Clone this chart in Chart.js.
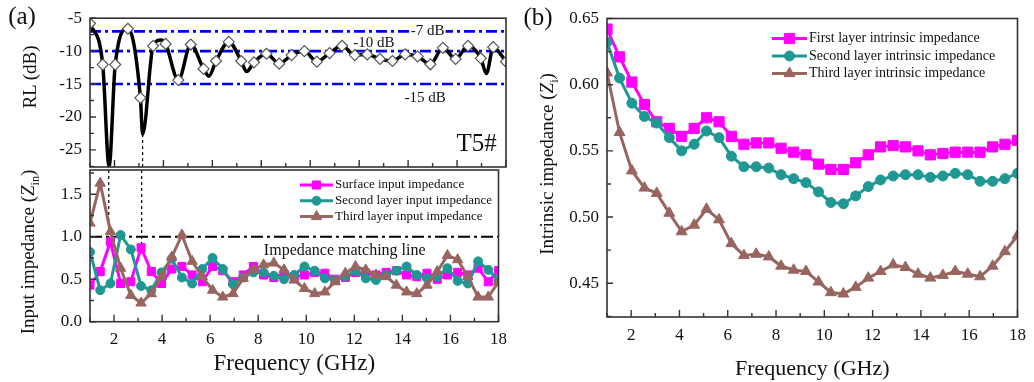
<!DOCTYPE html>
<html>
<head>
<meta charset="utf-8">
<script src="https://cdn.jsdelivr.net/npm/chart.js@4.4.1/dist/chart.umd.min.js"></script>
<style>
  body { margin: 0; background: #fff; }
  #wrap { position: relative; width: 1034px; height: 382px; overflow: hidden; }
  canvas { position: absolute; top: 0; }
  .lab { position: absolute; font-family: 'Liberation Serif', serif; color: #111;
         transform: translate(-50%, -50%); white-space: nowrap; }
  .ytitle { position: absolute; font-family: 'Liberation Serif', serif; font-size: 19px;
            color: #111; transform: translate(-50%, -50%) rotate(-90deg); white-space: nowrap; }
  .ytitle sub { font-size: 12px; }
</style>
</head>
<body>
<div id="wrap">
  <canvas id="rlChart" style="left:0" width="515" height="382"></canvas>
  <canvas id="zinChart" style="left:0" width="515" height="382"></canvas>
  <canvas id="ziChart" style="left:515px" width="519" height="382"></canvas>
  <div class="lab" style="left:22px;top:16px;font-size:25px">(a)</div>
  <div class="lab" style="left:538px;top:17px;font-size:25px">(b)</div>
  <div class="ytitle" style="left:30px;top:77px">RL (dB)</div>
  <div class="ytitle" style="left:30px;top:252px">Input impedance (<i>Z</i><sub>in</sub>)</div>
  <div class="ytitle" style="left:549px;top:164px">Intrinsic impedance (<i>Z</i><sub>i</sub>)</div>
</div>
<script>
// ---- data ----
// measurement grid used for the RL markers and the intrinsic impedance curves (GHz)
var freqA = [1.00, 1.52, 2.03, 2.55, 3.06, 3.58, 4.09, 4.61, 5.12, 5.64, 6.15, 6.67,
             7.18, 7.70, 8.21, 8.73, 9.24, 9.76, 10.27, 10.79, 11.30, 11.82, 12.33, 12.85,
             13.36, 13.88, 14.39, 14.91, 15.42, 15.94, 16.45, 16.97, 17.48, 18.00];
// grid used for the input impedance curves (GHz)
var freqZin = [1.000, 1.425, 1.850, 2.275, 2.700, 3.125, 3.550, 3.975, 4.400, 4.825,
               5.250, 5.675, 6.100, 6.525, 6.950, 7.375, 7.800, 8.225, 8.650, 9.075,
               9.500, 9.925, 10.350, 10.775, 11.200, 11.625, 12.050, 12.475, 12.900, 13.325,
               13.750, 14.175, 14.600, 15.025, 15.450, 15.875, 16.300, 16.725, 17.150, 17.575, 18.000];

// reflection loss, T5# sample (dB)
var rlMarkers = [-5.8, -12.05, -12.05, -6.6, -17.1, -9.2, -8.9, -14.4, -9.0, -12.7, -11.5, -8.6,
                 -11.5, -11.7, -10.4, -11.9, -10.6, -10.0, -11.6, -10.3, -9.2, -10.6, -10.5, -11.2,
                 -11.5, -10.5, -10.8, -12.0, -9.5, -11.2, -9.2, -11.1, -9.4, -11.6];
var rlCurveFreq = [1.00, 1.52, 1.78, 2.03, 2.55, 3.06, 3.15, 3.58, 3.90, 4.09, 4.61, 5.12, 5.64, 5.86,
                   6.15, 6.67, 7.18, 7.40, 7.70, 8.21, 8.73, 9.24, 9.76, 10.27, 10.79, 11.30, 11.82,
                   12.33, 12.85, 13.36, 13.88, 14.39, 14.91, 15.42, 15.94, 16.45, 16.97, 17.20, 17.48, 18.00];
var rlCurve = [-5.8, -12.05, -27.5, -12.05, -6.5, -17.1, -22.6, -9.2, -8.3, -8.9, -14.4, -9.0, -12.7, -13.8,
               -11.5, -8.6, -11.5, -13.1, -11.7, -10.4, -11.9, -10.6, -10.0, -11.6, -10.3, -9.2, -10.6,
               -10.5, -11.2, -11.5, -10.5, -10.8, -12.0, -9.5, -11.2, -9.2, -11.1, -13.4, -9.4, -11.6];
var rlLevels = [-7, -10, -15];
var rlLevelText = ['-7 dB', '-10 dB', '-15 dB'];

// absorption peaks marked across both panels
var dipFreqs = [1.78, 3.15];
var dipRL = [-27.5, -22.6];
var dipZinEnd = [0.93, 0.87];

// input impedance
var zinSurface = [0.43, 0.59, 0.94, 0.45, 0.47, 0.87, 0.59, 0.45, 0.62, 0.65, 0.55, 0.47, 0.65, 0.60,
                  0.47, 0.55, 0.65, 0.55, 0.52, 0.56, 0.53, 0.55, 0.58, 0.57, 0.50, 0.52, 0.58, 0.57,
                  0.55, 0.58, 0.60, 0.55, 0.53, 0.57, 0.50, 0.55, 0.58, 0.55, 0.63, 0.47, 0.60];
var zinSecond = [0.82, 0.37, 0.45, 1.02, 0.85, 0.42, 0.37, 0.58, 0.74, 0.52, 0.45, 0.62, 0.75, 0.62,
                 0.44, 0.52, 0.58, 0.58, 0.54, 0.50, 0.55, 0.65, 0.60, 0.51, 0.49, 0.53, 0.60, 0.51,
                 0.49, 0.55, 0.60, 0.65, 0.55, 0.51, 0.53, 0.63, 0.48, 0.45, 0.71, 0.61, 0.49];
var zinThird = [1.16, 1.63, 1.06, 0.63, 0.31, 0.22, 0.33, 0.53, 0.76, 1.02, 0.71, 0.53, 0.37, 0.29,
                0.33, 0.51, 0.61, 0.67, 0.69, 0.61, 0.49, 0.39, 0.33, 0.35, 0.47, 0.57, 0.65, 0.61,
                0.55, 0.53, 0.43, 0.35, 0.33, 0.43, 0.59, 0.78, 0.73, 0.53, 0.29, 0.29, 0.47];
var matchLevel = 1.0;

// intrinsic impedance
var ziFirst = [0.642, 0.621, 0.602, 0.585, 0.572, 0.567, 0.561, 0.567, 0.575, 0.572, 0.561, 0.555,
               0.556, 0.556, 0.552, 0.549, 0.547, 0.540, 0.536, 0.536, 0.541, 0.547, 0.553, 0.554,
               0.553, 0.550, 0.547, 0.548, 0.549, 0.549, 0.549, 0.553, 0.555, 0.558];
var ziSecond = [0.632, 0.605, 0.586, 0.576, 0.571, 0.560, 0.550, 0.555, 0.565, 0.560, 0.546, 0.538,
                0.538, 0.537, 0.532, 0.529, 0.526, 0.519, 0.511, 0.510, 0.516, 0.523, 0.528, 0.531,
                0.532, 0.532, 0.530, 0.531, 0.533, 0.532, 0.527, 0.527, 0.529, 0.533];
var ziThird = [0.609, 0.564, 0.535, 0.522, 0.518, 0.503, 0.489, 0.494, 0.506, 0.498, 0.480, 0.471,
               0.472, 0.470, 0.463, 0.460, 0.459, 0.451, 0.443, 0.442, 0.447, 0.454, 0.459, 0.464,
               0.462, 0.457, 0.454, 0.456, 0.459, 0.457, 0.455, 0.463, 0.474, 0.486];

// tick values
var freqTicks = [2, 4, 6, 8, 10, 12, 14, 16, 18];
var freqMinor = [1, 3, 5, 7, 9, 11, 13, 15, 17];
var rlTicks = [-25, -20, -15, -10, -5];
var rlMinor = [-27.5, -22.5, -17.5, -12.5, -7.5];
var zinTicks = [0, 0.5, 1.0, 1.5];
var zinMinor = [0.25, 0.75, 1.25, 1.75];
var ziTicks = [0.45, 0.50, 0.55, 0.60, 0.65];
var ziMinor = [0.425, 0.475, 0.525, 0.575, 0.625];

// ---- styling ----
var SERIF = "'Liberation Serif', 'Times New Roman', serif";
Chart.defaults.font.family = SERIF;
Chart.defaults.color = '#111';
var MAGENTA = '#ff00ff', TEAL = '#1f9893', BROWN = '#98655f';

function pts(xs, ys) {
  return xs.map(function (x, i) { return { x: x, y: ys[i] }; });
}

// frame plus inward tick marks on the bottom and left edges
var frameTicks = {
  id: 'frameTicks',
  afterDraw: function (chart, args, o) {
    var ctx = chart.ctx, a = chart.chartArea, xs = chart.scales.x, ys = chart.scales.y;
    ctx.save();
    ctx.strokeStyle = '#333';
    ctx.lineWidth = 1.6;
    ctx.strokeRect(a.left, a.top, a.right - a.left, a.bottom - a.top);
    ctx.lineWidth = 1.4;
    ctx.beginPath();
    freqTicks.forEach(function (v) {
      var p = xs.getPixelForValue(v);
      ctx.moveTo(p, a.bottom); ctx.lineTo(p, a.bottom - 7);
    });
    freqMinor.forEach(function (v) {
      var p = xs.getPixelForValue(v);
      ctx.moveTo(p, a.bottom); ctx.lineTo(p, a.bottom - 4);
    });
    o.major.forEach(function (v) {
      var p = ys.getPixelForValue(v);
      ctx.moveTo(a.left, p); ctx.lineTo(a.left + 6, p);
    });
    o.minor.forEach(function (v) {
      var p = ys.getPixelForValue(v);
      if (p < a.top || p > a.bottom) return;
      ctx.moveTo(a.left, p); ctx.lineTo(a.left + 4, p);
    });
    ctx.stroke();
    ctx.restore();
  }
};

// text placed at data coordinates
var notes = {
  id: 'notes',
  afterDatasetsDraw: function (chart, args, o) {
    var ctx = chart.ctx, xs = chart.scales.x, ys = chart.scales.y;
    (o.items || []).forEach(function (n) {
      var px = xs.getPixelForValue(n.x), py = ys.getPixelForValue(n.y);
      ctx.save();
      ctx.font = n.font;
      ctx.textAlign = 'center';
      ctx.textBaseline = 'middle';
      if (n.bg) {
        var w = ctx.measureText(n.text).width;
        ctx.fillStyle = n.bg;
        ctx.fillRect(px - w / 2 - 1, py - 7, w + 2, 14);
      }
      ctx.fillStyle = '#111';
      ctx.fillText(n.text, px, py);
      ctx.restore();
    });
  }
};

// legend drawn inside the plot area
var insetLegend = {
  id: 'insetLegend',
  afterDatasetsDraw: function (chart, args, o) {
    if (!o.len) return;
    var ctx = chart.ctx, a = chart.chartArea;
    var rows = chart.data.datasets.filter(function (d) { return d.legendRow !== undefined; });
    rows.sort(function (p, q) { return p.legendRow - q.legendRow; });
    rows.forEach(function (d, i) {
      var y = a.top + o.y + i * o.gap;
      var x0 = a.left + o.x, x1 = x0 + o.len;
      ctx.save();
      ctx.strokeStyle = d.borderColor;
      ctx.lineWidth = d.borderWidth;
      ctx.beginPath(); ctx.moveTo(x0, y); ctx.lineTo(x1, y); ctx.stroke();
      ctx.fillStyle = d.borderColor;
      ctx.lineWidth = 1;
      Chart.helpers.drawPoint(ctx, { pointStyle: d.pointStyle, radius: d.pointRadius, rotation: 0, borderWidth: 1 },
        (x0 + x1) / 2, y);
      ctx.font = o.font;
      ctx.fillStyle = '#111';
      ctx.textAlign = 'left';
      ctx.textBaseline = 'middle';
      ctx.fillText(d.label, x1 + 2, y);
      ctx.restore();
    });
  }
};

function xAxis(height, showLabels, titleSize, titlePad) {
  return {
    type: 'linear', min: 1, max: 18,
    grid: { display: false, drawTicks: false },
    border: { display: false },
    afterBuildTicks: function (s) { s.ticks = freqTicks.map(function (v) { return { value: v }; }); },
    afterFit: function (s) { s.height = height; },
    ticks: { display: showLabels, padding: 8, font: { size: 17 } },
    title: {
      display: showLabels, text: 'Frequency (GHz)',
      font: { size: titleSize }, padding: { top: 0, bottom: titlePad }
    }
  };
}

function yAxis(width, min, max, ticks, fmt) {
  return {
    type: 'linear', min: min, max: max,
    grid: { display: false, drawTicks: false },
    border: { display: false },
    afterBuildTicks: function (s) { s.ticks = ticks.map(function (v) { return { value: v }; }); },
    afterFit: function (s) { s.width = width; },
    ticks: { padding: 8, font: { size: 17 }, callback: fmt }
  };
}

function series(label, xs, ys, color, style, radius, row, order) {
  return {
    label: label, data: pts(xs, ys), legendRow: row, order: order,
    borderColor: color, backgroundColor: color, borderWidth: 3,
    pointStyle: style, pointRadius: radius, pointBorderWidth: 1,
    pointBackgroundColor: color, pointBorderColor: color
  };
}

function flatLine(xs, ys, color, width, dash, order) {
  return {
    data: pts(xs, ys), borderColor: color, borderWidth: width, borderDash: dash,
    pointRadius: 0, order: order, fill: false
  };
}

var baseOptions = {
  responsive: false,
  animation: false,
  events: [],
  plugins: { legend: { display: false }, tooltip: { enabled: false } }
};

function opts(extra) {
  return Object.assign({}, baseOptions, extra);
}

// ---- (a) reflection loss ----
var rlSets = [
  {
    data: pts(freqA, rlMarkers), showLine: false, order: 0,
    pointStyle: 'rectRot', pointRadius: 5.5, pointBackgroundColor: '#fff',
    pointBorderColor: '#555', pointBorderWidth: 1.2
  },
  {
    data: pts(rlCurveFreq, rlCurve), order: 1, borderColor: '#000', borderWidth: 3.5,
    pointRadius: 0, cubicInterpolationMode: 'monotone'
  }
];
rlLevels.forEach(function (v) {
  rlSets.push(flatLine([1, 18], [v, v], '#0000ff', 2.6, [11, 4, 3, 4], 2));
});
dipFreqs.forEach(function (f, i) {
  rlSets.push(flatLine([f, f], [dipRL[i], -27.6], '#000', 1.2, [3, 3], 3));
});

new Chart(document.getElementById('rlChart'), {
  type: 'line',
  data: { datasets: rlSets },
  options: opts({
    layout: { padding: { left: 0, top: 18, right: 9, bottom: 215 } },
    scales: {
      x: xAxis(0, false, 21, 0),
      y: yAxis(90, -27.6, -5, rlTicks, function (v) { return String(v); })
    },
    plugins: Object.assign({}, baseOptions.plugins, {
      frameTicks: { major: rlTicks, minor: rlMinor },
      notes: {
        items: [
          { text: rlLevelText[0], x: 14.8, y: -7, font: '15px ' + SERIF, bg: '#fff' },
          { text: rlLevelText[1], x: 12.6, y: -8.8, font: '15px ' + SERIF },
          { text: rlLevelText[2], x: 14.7, y: -17.2, font: '15px ' + SERIF },
          { text: 'T5#', x: 16.8, y: -24.1, font: '25px ' + SERIF }
        ]
      }
    })
  }),
  plugins: [frameTicks, notes]
});

// ---- (a) input impedance ----
var zinSets = [
  series('Surface input impedance', freqZin, zinSurface, MAGENTA, 'rect', 5.7, 0, 2),
  series('Second layer input impedance', freqZin, zinSecond, TEAL, 'circle', 4.5, 1, 1),
  series('Third layer input impedance', freqZin, zinThird, BROWN, 'triangle', 6, 2, 0),
  flatLine([1, 18], [matchLevel, matchLevel], '#000', 2, [12, 4, 3, 4], 3)
];
dipFreqs.forEach(function (f, i) {
  zinSets.push(flatLine([f, f], [1.785, dipZinEnd[i]], '#000', 1.2, [3, 3], 3));
});

new Chart(document.getElementById('zinChart'), {
  type: 'line',
  data: { datasets: zinSets },
  options: opts({
    layout: { padding: { left: 0, top: 170, right: 9, bottom: 0 } },
    scales: {
      x: xAxis(60.3, true, 23, 4),
      y: yAxis(90, 0, 1.785, zinTicks, function (v) { return v.toFixed(1); })
    },
    plugins: Object.assign({}, baseOptions.plugins, {
      frameTicks: { major: zinTicks, minor: zinMinor },
      insetLegend: { x: 210, y: 15, gap: 15.8, len: 33, font: '13px ' + SERIF },
      notes: {
        items: [{ text: 'Impedance matching line', x: 11.6, y: 0.84, font: '16px ' + SERIF }]
      }
    })
  }),
  plugins: [frameTicks, insetLegend, notes]
});

// ---- (b) intrinsic impedance ----
new Chart(document.getElementById('ziChart'), {
  type: 'line',
  data: {
    datasets: [
      series('First layer intrinsic impedance', freqA, ziFirst, MAGENTA, 'rect', 7.2, 0, 2),
      series('Second layer intrinsic impedance', freqA, ziSecond, TEAL, 'circle', 5, 1, 1),
      series('Third layer intrinsic impedance', freqA, ziThird, BROWN, 'triangle', 6.3, 2, 0)
    ]
  },
  options: opts({
    layout: { padding: { left: 0, top: 18.5, right: 12, bottom: 0 } },
    scales: {
      x: xAxis(65, true, 22, 0),
      y: yAxis(92, 0.4245, 0.65, ziTicks, function (v) { return v.toFixed(2); })
    },
    plugins: Object.assign({}, baseOptions.plugins, {
      frameTicks: { major: ziTicks, minor: ziMinor },
      insetLegend: { x: 165, y: 20, gap: 17.5, len: 35, font: '14px ' + SERIF }
    })
  }),
  plugins: [frameTicks, insetLegend]
});
</script>
</body>
</html>
